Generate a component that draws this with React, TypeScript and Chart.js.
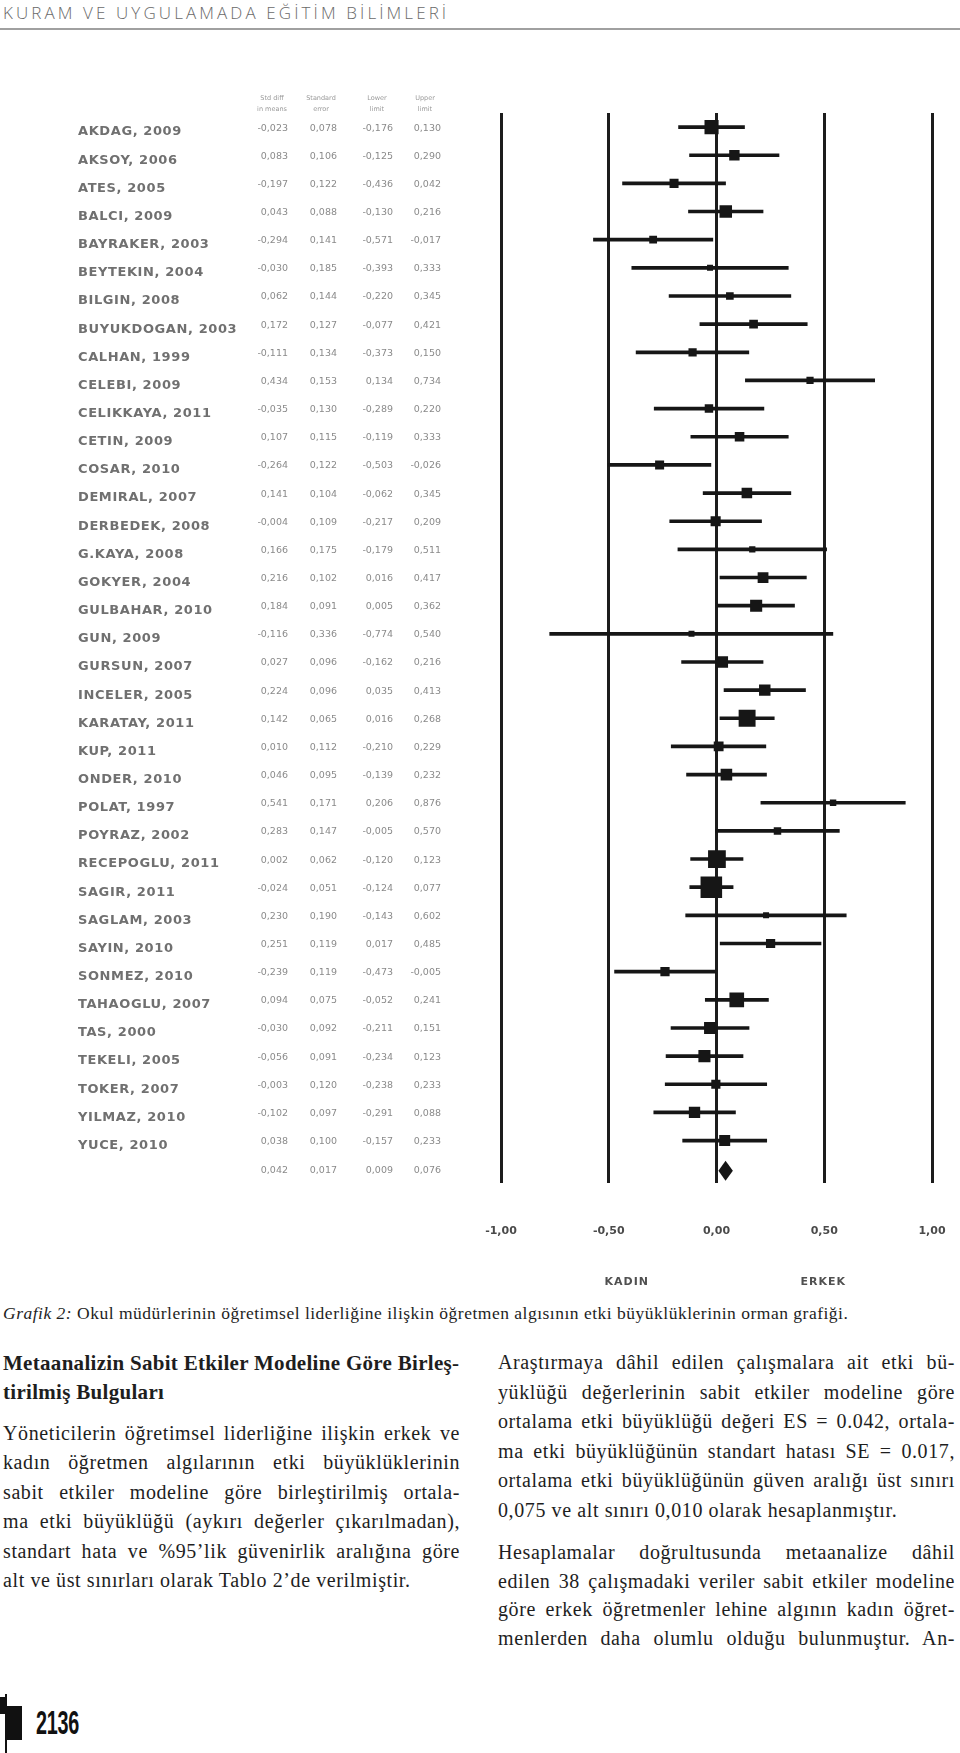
import React, { useEffect, useRef } from 'react';
import { Chart, registerables } from 'chart.js';

Chart.register(...registerables);

// ---------- data ----------
const studies = [
  'AKDAG, 2009', 'AKSOY, 2006', 'ATES, 2005', 'BALCI, 2009', 'BAYRAKER, 2003', 'BEYTEKIN, 2004',
  'BILGIN, 2008', 'BUYUKDOGAN, 2003', 'CALHAN, 1999', 'CELEBI, 2009', 'CELIKKAYA, 2011', 'CETIN, 2009',
  'COSAR, 2010', 'DEMIRAL, 2007', 'DERBEDEK, 2008', 'G.KAYA, 2008', 'GOKYER, 2004', 'GULBAHAR, 2010',
  'GUN, 2009', 'GURSUN, 2007', 'INCELER, 2005', 'KARATAY, 2011', 'KUP, 2011', 'ONDER, 2010',
  'POLAT, 1997', 'POYRAZ, 2002', 'RECEPOGLU, 2011', 'SAGIR, 2011', 'SAGLAM, 2003', 'SAYIN, 2010',
  'SONMEZ, 2010', 'TAHAOGLU, 2007', 'TAS, 2000', 'TEKELI, 2005', 'TOKER, 2007', 'YILMAZ, 2010', 'YUCE, 2010',
];
const effectSizes = [
  -0.023, 0.083, -0.197, 0.043, -0.294, -0.030, 0.062, 0.172, -0.111, 0.434, -0.035, 0.107, -0.264,
  0.141, -0.004, 0.166, 0.216, 0.184, -0.116, 0.027, 0.224, 0.142, 0.010, 0.046, 0.541, 0.283,
  0.002, -0.024, 0.230, 0.251, -0.239, 0.094, -0.030, -0.056, -0.003, -0.102, 0.038,
];
const standardErrors = [
  0.078, 0.106, 0.122, 0.088, 0.141, 0.185, 0.144, 0.127, 0.134, 0.153, 0.130, 0.115, 0.122,
  0.104, 0.109, 0.175, 0.102, 0.091, 0.336, 0.096, 0.096, 0.065, 0.112, 0.095, 0.171, 0.147,
  0.062, 0.051, 0.190, 0.119, 0.119, 0.075, 0.092, 0.091, 0.120, 0.097, 0.100,
];
const lowerLimits = [
  -0.176, -0.125, -0.436, -0.130, -0.571, -0.393, -0.220, -0.077, -0.373, 0.134, -0.289, -0.119, -0.503,
  -0.062, -0.217, -0.179, 0.016, 0.005, -0.774, -0.162, 0.035, 0.016, -0.210, -0.139, 0.206, -0.005,
  -0.120, -0.124, -0.143, 0.017, -0.473, -0.052, -0.211, -0.234, -0.238, -0.291, -0.157,
];
const upperLimits = [
  0.130, 0.290, 0.042, 0.216, -0.017, 0.333, 0.345, 0.421, 0.150, 0.734, 0.220, 0.333, -0.026,
  0.345, 0.209, 0.511, 0.417, 0.362, 0.540, 0.216, 0.413, 0.268, 0.229, 0.232, 0.876, 0.570,
  0.123, 0.077, 0.602, 0.485, -0.005, 0.241, 0.151, 0.123, 0.233, 0.088, 0.233,
];
// summary: effect, SE, lower, upper
const summaryValues = [0.042, 0.017, 0.009, 0.076];
const xTickValues = [-1, -0.5, 0, 0.5, 1];
const columnHeaders = [['Std diff', 'in means'], ['Standard', 'error'], ['Lower', 'limit'], ['Upper', 'limit']];
const sideLabels = ['KADIN', 'ERKEK'];

// ---------- layout constants ----------
const CANVAS_TOP = 80;
const CANVAS_W = 960;
const CANVAS_H = 1220;
const colRight = [288, 337, 393, 441];

const fmt = (v: number, d: number) => v.toFixed(d).replace('.', ',');

const textPlugin = {
  id: 'forestText',
  afterDatasetsDraw(chart: any) {
    const ctx = chart.ctx as CanvasRenderingContext2D;
    const ys = chart.scales.y;
    const xs = chart.scales.x;
    ctx.save();
    // summary diamond
    const cy = ys.getPixelForValue(studies.length) + 2;
    const xl = xs.getPixelForValue(summaryValues[2]);
    const xr = xs.getPixelForValue(summaryValues[3]);
    const xm = xs.getPixelForValue(summaryValues[0]);
    ctx.fillStyle = '#151515';
    ctx.beginPath();
    ctx.moveTo(xl, cy);
    ctx.lineTo(xm, cy - 10);
    ctx.lineTo(xr, cy);
    ctx.lineTo(xm, cy + 10);
    ctx.closePath();
    ctx.fill();

    // study names
    ctx.textBaseline = 'middle';
    ctx.textAlign = 'left';
    ctx.font = 'bold 13px "DejaVu Sans"';
    (ctx as any).letterSpacing = '0.6px';
    ctx.fillStyle = '#707070';
    studies.forEach((s, i) => ctx.fillText(s, 78, ys.getPixelForValue(i) + 5));
    (ctx as any).letterSpacing = '0px';

    // numeric columns
    ctx.font = '9.5px "DejaVu Sans"';
    ctx.fillStyle = '#8a8a8a';
    ctx.textAlign = 'right';
    const cols = [effectSizes, standardErrors, lowerLimits, upperLimits];
    studies.forEach((_, i) => {
      const y = ys.getPixelForValue(i) + 1;
      cols.forEach((arr, c) => ctx.fillText(fmt(arr[i], 3), colRight[c], y));
    });
    const sy = ys.getPixelForValue(studies.length) + 2;
    summaryValues.forEach((v, c) => ctx.fillText(fmt(v, 3), colRight[c], sy));

    // column headers
    ctx.font = '6.5px "DejaVu Sans"';
    ctx.fillStyle = '#999';
    ctx.textAlign = 'center';
    columnHeaders.forEach((h, c) => {
      const cx = colRight[c] - 16;
      ctx.fillText(h[0], cx, 98 - CANVAS_TOP);
      ctx.fillText(h[1], cx, 109 - CANVAS_TOP);
    });

    // side labels
    ctx.font = 'bold 11px "DejaVu Sans"';
    (ctx as any).letterSpacing = '1px';
    ctx.fillStyle = '#505050';
    ctx.fillText(sideLabels[0], xs.getPixelForValue(-0.5) + 18, 1282 - CANVAS_TOP);
    ctx.fillText(sideLabels[1], xs.getPixelForValue(0.5) - 1, 1282 - CANVAS_TOP);
    ctx.restore();
  },
};

function Line(props: { text: string; x: number; y: number; w: number; justify?: boolean; style?: any }) {
  const { text, x, y, w, justify, style } = props;
  return (
    <div
      style={{
        position: 'absolute',
        left: x,
        top: y,
        width: w,
        whiteSpace: 'nowrap',
        textAlign: justify ? 'justify' : 'left',
        textAlignLast: justify ? 'justify' : 'left',
        lineHeight: '24px',
        height: 24,
        fontFamily: '"Liberation Serif", serif',
        fontSize: 20,
        letterSpacing: '0.6px',
        color: '#1e1e1e',
        ...style,
      } as any}
    >
      {text}
    </div>
  );
}

const headingLines = ['Metaanalizin Sabit Etkiler Modeline Göre Birleş-', 'tirilmiş Bulguları'];
const leftLines = [
  'Yöneticilerin öğretimsel liderliğine ilişkin erkek ve',
  'kadın öğretmen algılarının etki büyüklüklerinin',
  'sabit etkiler modeline göre birleştirilmiş ortala-',
  'ma etki büyüklüğü (aykırı değerler çıkarılmadan),',
  'standart hata ve %95’lik güvenirlik aralığına göre',
  'alt ve üst sınırları olarak Tablo 2’de verilmiştir.',
];
const rightLines1 = [
  'Araştırmaya dâhil edilen çalışmalara ait etki bü-',
  'yüklüğü değerlerinin sabit etkiler modeline göre',
  'ortalama etki büyüklüğü değeri ES = 0.042, ortala-',
  'ma etki büyüklüğünün standart hatası SE = 0.017,',
  'ortalama etki büyüklüğünün güven aralığı üst sınırı',
  '0,075 ve alt sınırı 0,010 olarak hesaplanmıştır.',
];
const rightLines2 = [
  'Hesaplamalar doğrultusunda metaanalize dâhil',
  'edilen 38 çalışmadaki veriler sabit etkiler modeline',
  'göre erkek öğretmenler lehine algının kadın öğret-',
  'menlerden daha olumlu olduğu bulunmuştur. An-',
];

export default function App() {
  const ref = useRef<HTMLCanvasElement>(null);
  useEffect(() => {
    const labels = [...studies, ''];
    const ciData: any[] = studies.map((_, i) => [lowerLimits[i], upperLimits[i]]);
    ciData.push(null);
    const pointData = effectSizes.map((v, i) => ({ x: v, y: studies[i] }));
    const markerRadius = (c: any) => {
      const se = standardErrors[c.dataIndex] ?? 0.1;
      return Math.max(6, 1.1 / se) / Math.SQRT2;
    };
    const chart = new Chart(ref.current as HTMLCanvasElement, {
      type: 'bar',
      data: {
        labels,
        datasets: [
          {
            type: 'bar',
            data: ciData,
            backgroundColor: '#161616',
            borderWidth: 0,
            barThickness: 3,
            order: 2,
          } as any,
          {
            type: 'scatter',
            data: pointData,
            pointStyle: 'rect',
            backgroundColor: '#161616',
            borderWidth: 0,
            pointRadius: markerRadius,
            pointHoverRadius: markerRadius,
            order: 1,
          } as any,
        ],
      },
      options: {
        indexAxis: 'y',
        animation: false,
        responsive: false,
        devicePixelRatio: 1,
        events: [],
        layout: { padding: { left: 501, right: 28, top: 33, bottom: 20 } },
        plugins: { legend: { display: false }, tooltip: { enabled: false } },
        scales: {
          x: {
            type: 'linear',
            position: 'bottom',
            min: -1,
            max: 1,
            afterBuildTicks: (axis: any) => {
              axis.ticks = xTickValues.map((v) => ({ value: v }));
            },
            afterFit: (axis: any) => {
              axis.paddingLeft = 0;
              axis.paddingRight = 0;
            },
            ticks: {
              callback: (v: any) => fmt(Number(v), 2),
              font: { family: '"DejaVu Sans"', size: 11, weight: 'bold' },
              color: '#4a4a4a',
              padding: 42,
              maxRotation: 0,
            },
            grid: { color: '#1c1c1c', lineWidth: 3, drawTicks: false },
            border: { display: false },
          },
          y: {
            type: 'category',
            display: false,
            offset: true,
          },
        },
      } as any,
      plugins: [textPlugin],
    });
    return () => chart.destroy();
  }, []);

  return (
    <div style={{ position: 'absolute', left: 0, top: 0, width: 960, height: 1753, background: '#fff', overflow: 'hidden' }}>
      <div
        style={{
          position: 'absolute', left: 3, top: 3, fontFamily: '"Open Sans", sans-serif', fontWeight: 300,
          fontSize: 17, letterSpacing: '3.1px', color: '#6a6a6a', whiteSpace: 'nowrap', lineHeight: '20px',
        }}
      >
        KURAM VE UYGULAMADA EĞİTİM BİLİMLERİ
      </div>
      <div style={{ position: 'absolute', left: 0, top: 28, width: 960, height: 1.5, background: '#a0a0a0' }} />

      <canvas
        ref={ref}
        width={CANVAS_W}
        height={CANVAS_H}
        style={{ position: 'absolute', left: 0, top: CANVAS_TOP, width: CANVAS_W, height: CANVAS_H }}
      />

      <div
        style={{
          position: 'absolute', left: 3, top: 1303, fontFamily: '"Liberation Serif", serif', fontSize: 17.5,
          letterSpacing: '0.5px', color: '#1e1e1e', whiteSpace: 'nowrap', lineHeight: '20px',
        }}
      >
        <i>Grafik 2:</i> Okul müdürlerinin öğretimsel liderliğine ilişkin öğretmen algısının etki büyüklüklerinin orman grafiği.
      </div>

      {headingLines.map((t, i) => (
        <Line key={'h' + i} text={t} x={3} y={1351 + i * 29} w={455} justify={i === 0}
          style={{ fontWeight: 'bold', fontSize: 21, letterSpacing: '0.3px' }} />
      ))}
      {leftLines.map((t, i) => (
        <Line key={'l' + i} text={t} x={3} y={1421 + i * 29.4} w={457} justify={i < leftLines.length - 1} />
      ))}
      {rightLines1.map((t, i) => (
        <Line key={'r' + i} text={t} x={498} y={1350 + i * 29.6} w={457} justify={i < rightLines1.length - 1} />
      ))}
      {rightLines2.map((t, i) => (
        <Line key={'s' + i} text={t} x={498} y={1540 + i * 28.6} w={457} justify />
      ))}

      <div style={{ position: 'absolute', left: 5, top: 1694, width: 1.5, height: 59, background: '#111' }} />
      <div style={{ position: 'absolute', left: 0, top: 1697, width: 6, height: 17, background: '#111' }} />
      <div style={{ position: 'absolute', left: 6, top: 1706, width: 16, height: 34, background: '#111' }} />
      <div
        style={{
          position: 'absolute', left: 36, top: 1703, fontFamily: '"Liberation Sans", "DejaVu Sans", sans-serif',
          fontWeight: 'bold', fontSize: 33, lineHeight: '40px', color: '#111', letterSpacing: '-0.5px',
          transform: 'scaleX(0.6)', transformOrigin: 'left top', whiteSpace: 'nowrap',
        }}
      >
        2136
      </div>
    </div>
  );
}
